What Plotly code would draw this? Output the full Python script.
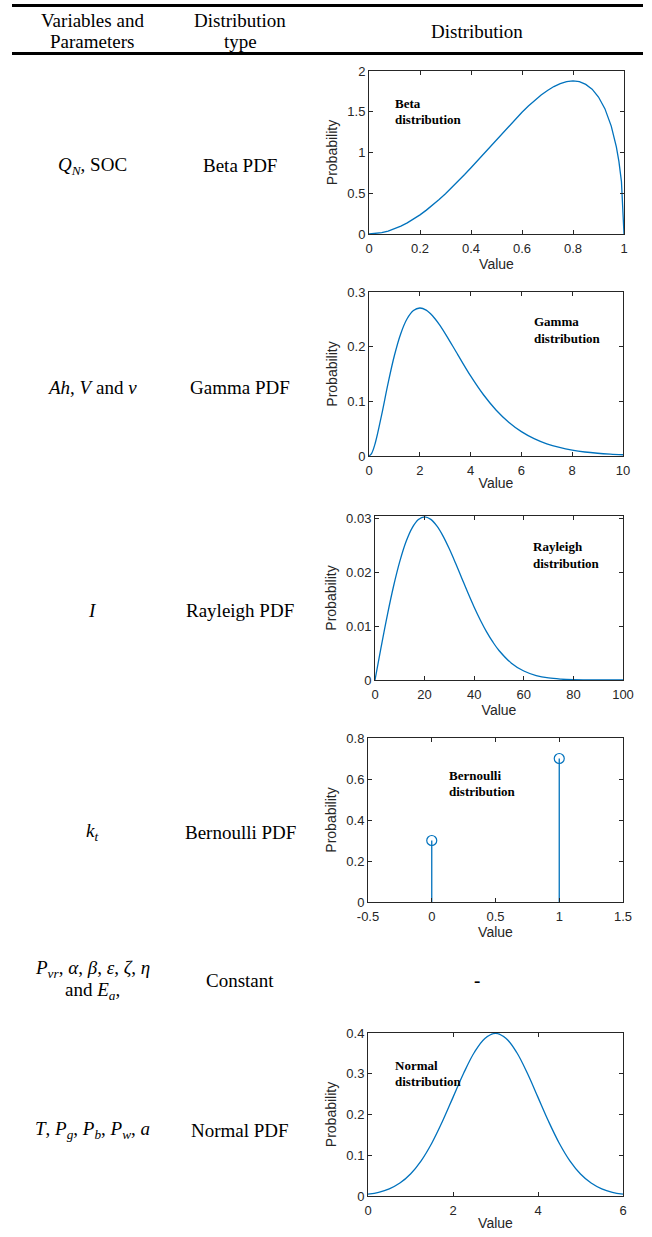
import plotly.graph_objects as go

W, H = 652, 1237

# ---------------- data ----------------
beta_x = [0, 0.025, 0.05, 0.075, 0.1, 0.125, 0.15, 0.175, 0.2, 0.225, 0.25, 0.275,
          0.3, 0.325, 0.35, 0.375, 0.4, 0.425, 0.45, 0.475, 0.5, 0.525, 0.55, 0.575,
          0.6, 0.625, 0.65, 0.675, 0.7, 0.725, 0.75, 0.775, 0.8, 0.825, 0.85, 0.875,
          0.9, 0.925, 0.95, 0.96, 0.97, 0.98, 0.99, 1.0]
beta_y = [0, 0.004, 0.016, 0.036, 0.062, 0.096, 0.136, 0.183, 0.235, 0.293, 0.355,
          0.423, 0.494, 0.570, 0.648, 0.730, 0.813, 0.899, 0.986, 1.073, 1.160, 1.247,
          1.332, 1.414, 1.494, 1.570, 1.640, 1.705, 1.761, 1.809, 1.846, 1.870, 1.878,
          1.869, 1.836, 1.777, 1.681, 1.538, 1.324, 1.210, 1.069, 0.891, 0.643, 0]

gamma_x = [0, 0.1, 0.25, 0.5, 0.75, 1, 1.25, 1.5, 1.75, 2, 2.25, 2.5, 2.75, 3,
           3.5, 4, 4.5, 5, 5.5, 6, 6.5, 7, 7.5, 8, 8.5, 9, 9.5, 10]
gamma_y = [0, 0.0045, 0.0243, 0.0758, 0.1329, 0.1839, 0.2238, 0.2510, 0.2661,
           0.2707, 0.2668, 0.2565, 0.2417, 0.2240, 0.1850, 0.1465, 0.1125, 0.0842,
           0.0618, 0.0446, 0.0318, 0.0223, 0.0156, 0.0107, 0.0073, 0.0050, 0.0034,
           0.0023]

rayl_x = [0, 2.5, 5, 7.5, 10, 12.5, 15, 17.5, 20, 22.5, 25, 27.5, 30, 32.5, 35,
          37.5, 40, 42.5, 45, 47.5, 50, 55, 60, 65, 70, 75, 80, 90, 100]
rayl_y = [0, 0.00620, 0.01212, 0.01748, 0.02206, 0.02571, 0.02830, 0.02984,
          0.03033, 0.02987, 0.02861, 0.02672, 0.02435, 0.02170, 0.01893, 0.01616,
          0.01353, 0.01112, 0.00895, 0.00708, 0.00549, 0.00313, 0.00167, 0.00083,
          0.00038, 0.00017, 0.00007, 0.00001, 0]

bern_x = [0, 1]
bern_p = [0.3, 0.7]

norm_x = [0, 0.25, 0.5, 0.75, 1, 1.25, 1.5, 1.75, 2, 2.25, 2.5, 2.75, 3,
          3.25, 3.5, 3.75, 4, 4.25, 4.5, 4.75, 5, 5.25, 5.5, 5.75, 6]
norm_y = [0.0044, 0.0091, 0.0175, 0.0317, 0.0540, 0.0863, 0.1295, 0.1827, 0.2420,
          0.3011, 0.3521, 0.3867, 0.3989, 0.3867, 0.3521, 0.3011, 0.2420, 0.1827,
          0.1295, 0.0863, 0.0540, 0.0317, 0.0175, 0.0091, 0.0044]

# table text (each entry is a list of lines)
header_text = [["Variables and", "Parameters"], ["Distribution", "type"], ["Distribution"]]
col1_text = [["<i>Q<sub>N</sub></i>, SOC"],
             ["<i>Ah</i>, <i>V</i> and <i>v</i>"],
             ["<i>I</i>"],
             ["<i>k<sub>t</sub></i>"],
             ["<i>P<sub>vr</sub></i>, <i>α</i>, <i>β</i>, <i>ε</i>, <i>ζ</i>, <i>η</i>",
              "and <i>E<sub>a</sub></i>,"],
             ["<i>T</i>, <i>P<sub>g</sub></i>, <i>P<sub>b</sub></i>, <i>P<sub>w</sub></i>, <i>a</i>"]]
col2_text = ["Beta PDF", "Gamma PDF", "Rayleigh PDF", "Bernoulli PDF", "Constant", "Normal PDF"]

# axis definitions
x_ticks = [[0, 0.2, 0.4, 0.6, 0.8, 1], [0, 2, 4, 6, 8, 10], [0, 20, 40, 60, 80, 100],
           [-0.5, 0, 0.5, 1, 1.5], [0, 2, 4, 6]]
x_tick_text = [["0", "0.2", "0.4", "0.6", "0.8", "1"], ["0", "2", "4", "6", "8", "10"],
               ["0", "20", "40", "60", "80", "100"], ["-0.5", "0", "0.5", "1", "1.5"],
               ["0", "2", "4", "6"]]
y_ticks = [[0, 0.5, 1, 1.5, 2], [0, 0.1, 0.2, 0.3], [0, 0.01, 0.02, 0.03],
           [0, 0.2, 0.4, 0.6, 0.8], [0, 0.1, 0.2, 0.3, 0.4]]
y_tick_text = [["0", "0.5", "1", "1.5", "2"], ["0", "0.1", "0.2", "0.3"],
               ["0", "0.01", "0.02", "0.03"], ["0", "0.2", "0.4", "0.6", "0.8"],
               ["0", "0.1", "0.2", "0.3", "0.4"]]
x_ranges = [[0, 1], [0, 10], [0, 100], [-0.5, 1.5], [0, 6]]
y_ranges = [[0, 2], [0, 0.3], [0, 0.0305], [0, 0.8], [0, 0.4]]
dist_labels = [["Beta", "distribution"], ["Gamma", "distribution"], ["Rayleigh", "distribution"],
               ["Bernoulli", "distribution"], ["Normal", "distribution"]]

# ---------------- layout geometry (pixels) ----------------
row_y = [166, 387, 610, 832, 980, 1130]
plot_boxes = [(369, 624, 71, 234), (369, 623, 292, 456), (375, 623, 516, 680),
              (368, 623, 738, 902), (368, 623, 1033, 1196)]
label_pos = [(393, 103), (532, 322), (531, 547), (447, 775), (393, 1065)]
LABEL_GAP = 16
HDR_GAP = 22


def px(x):
    return x / W


def py(y):
    return 1 - y / H


BLUE = "#0072BD"
AX = "#262626"
SERIF = "Liberation Serif, Times New Roman, serif"
SANS = "Liberation Sans, Arial, sans-serif"

fig = go.Figure()

series = [(beta_x, beta_y, "linear"), (gamma_x, gamma_y, "spline"),
          (rayl_x, rayl_y, "spline"), None, (norm_x, norm_y, "spline")]
for i, s in enumerate(series):
    xa = "x" if i == 0 else f"x{i+1}"
    ya = "y" if i == 0 else f"y{i+1}"
    if s is not None:
        fig.add_trace(go.Scatter(x=s[0], y=s[1], mode="lines", xaxis=xa, yaxis=ya,
                                 line=dict(color=BLUE, width=1.3, shape=s[2]),
                                 hoverinfo="skip"))
    else:
        sx, sy = [], []
        for xv, pv in zip(bern_x, bern_p):
            sx += [xv, xv, None]
            sy += [0, pv, None]
        fig.add_trace(go.Scatter(x=sx, y=sy, mode="lines", xaxis=xa, yaxis=ya,
                                 line=dict(color=BLUE, width=1.3), hoverinfo="skip"))
        fig.add_trace(go.Scatter(x=bern_x, y=bern_p, mode="markers", xaxis=xa, yaxis=ya,
                                 marker=dict(symbol="circle-open", size=10, color=BLUE,
                                             line=dict(width=1.2, color=BLUE)),
                                 hoverinfo="skip"))

layout = dict(width=W, height=H,
              margin=dict(l=0, r=0, t=0, b=0, pad=0, autoexpand=False),
              paper_bgcolor="white", plot_bgcolor="white", showlegend=False)

for i in range(5):
    l, r, t, b = plot_boxes[i]
    xk = "xaxis" if i == 0 else f"xaxis{i+1}"
    yk = "yaxis" if i == 0 else f"yaxis{i+1}"
    ya_name = "y" if i == 0 else f"y{i+1}"
    xa_name = "x" if i == 0 else f"x{i+1}"
    common = dict(showline=True, linecolor=AX, linewidth=1, mirror="ticks",
                  ticks="inside", ticklen=4, tickcolor=AX, tickwidth=1,
                  showgrid=False, zeroline=False, fixedrange=True, automargin=False,
                  tickfont=dict(family=SANS, size=13, color=AX))
    layout[xk] = dict(domain=[px(l), px(r)], anchor=ya_name, range=x_ranges[i],
                      tickmode="array", tickvals=x_ticks[i], ticktext=x_tick_text[i],
                      ticklabelstandoff=2,
                      title=dict(text="Value", font=dict(family=SANS, size=14, color=AX),
                                 standoff=1),
                      **common)
    layout[yk] = dict(domain=[py(b), py(t)], anchor=xa_name, range=y_ranges[i],
                      tickmode="array", tickvals=y_ticks[i], ticktext=y_tick_text[i],
                      title=dict(text="Probability", font=dict(family=SANS, size=14, color=AX),
                                 standoff=6),
                      **common)

fig.update_layout(**layout)

annotations = []
cell_font = dict(family=SERIF, size=19, color="black")


def add_lines(lines, xc, yc, gap, font, anchor="center"):
    n = len(lines)
    for k, txt in enumerate(lines):
        yy = yc + (k - (n - 1) / 2) * gap
        annotations.append(dict(x=px(xc), y=py(yy), text=txt, showarrow=False,
                                xref="paper", yref="paper", font=font,
                                xanchor=anchor, yanchor="middle", align="left"))


add_lines(header_text[0], 92, 31, HDR_GAP, cell_font)
add_lines(header_text[1], 240, 31, HDR_GAP, cell_font)
add_lines(header_text[2], 477, 31, HDR_GAP, cell_font)

for t1, t2, yy in zip(col1_text, col2_text, row_y):
    add_lines(t1, 92, yy, HDR_GAP, cell_font)
    add_lines([t2], 240, yy, HDR_GAP, cell_font)
add_lines(["<b>-</b>"], 477, row_y[4], HDR_GAP, cell_font)

lab_font = dict(family=SERIF, size=13, color="black")
for lab, (lx, ly) in zip(dist_labels, label_pos):
    add_lines([f"<b>{t}</b>" for t in lab], lx, ly + LABEL_GAP / 2, LABEL_GAP, lab_font,
              anchor="left")

fig.update_layout(annotations=annotations)

for yy in [5.5, 53.5]:
    fig.add_shape(type="line", xref="paper", yref="paper", x0=px(12), x1=px(643),
                  y0=py(yy), y1=py(yy), line=dict(color="black", width=3))

fig.write_html("out.html", config={"displayModeBar": False},
               post_script="document.body.style.margin='0';document.body.style.overflow='hidden';")
